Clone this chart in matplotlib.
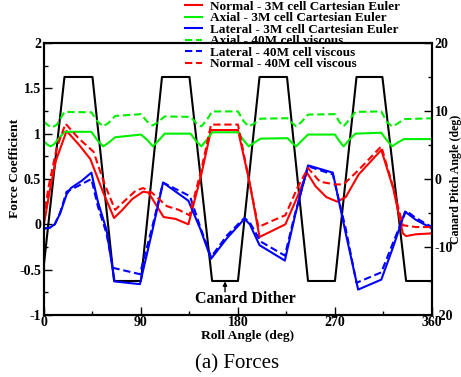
import matplotlib
matplotlib.use("Agg")
import matplotlib.pyplot as plt
from matplotlib.ticker import MultipleLocator

# Roll angle stations (deg) and force coefficients
normal_3m_x = [0, 5, 11, 21, 33, 43, 55, 65, 72, 82, 92, 97, 111, 122, 134, 146, 155, 180, 191, 200,
               212, 224, 235, 244, 252, 262, 272, 280, 292, 313, 324, 333, 336, 345, 360]
normal_3m_y = [0.0, 0.35, 0.7, 1.03, 0.87, 0.72, 0.35, 0.07, 0.15, 0.28, 0.36, 0.35, 0.08, 0.06, 0.0,
               0.55, 1.04, 1.04, 0.45, -0.14, -0.07, 0.0, 0.3, 0.57, 0.42, 0.3, 0.25, 0.3, 0.55, 0.82,
               0.4, -0.1, -0.13, -0.11, -0.1]

axial_3m_x = [0, 3, 6, 9, 19, 44, 50, 55, 60, 66, 90, 96, 101, 106, 112, 136, 141, 146, 151, 156, 180,
              185, 190, 195, 201, 226, 230, 234, 239, 245, 270, 274, 278, 283, 289, 313, 318, 323, 328,
              334, 360]
axial_3m_y = [0.915, 0.88, 0.86, 0.88, 1.02, 1.02, 0.92, 0.86, 0.9, 0.96, 0.99, 0.93, 0.86, 0.92, 1.0,
              1.0, 0.92, 0.86, 0.93, 1.015, 1.015, 0.93, 0.86, 0.9, 0.945, 0.95, 0.9, 0.86, 0.92, 0.99,
              0.99, 0.92, 0.86, 0.93, 1.0, 1.01, 0.93, 0.86, 0.9, 0.94, 0.94]

lateral_3m_x = [0, 5, 10, 15, 21, 25, 35, 44, 50, 58, 65.5, 89, 100, 110.5, 134, 145, 155, 170, 180, 186,
                191, 200, 223.5, 233, 245, 268, 280, 291.5, 313, 324, 335, 345, 360]
lateral_3m_y = [-0.045, -0.04, 0.0, 0.12, 0.33, 0.4, 0.48, 0.57, 0.25, -0.06, -0.63, -0.66, -0.1, 0.46,
                0.26, -0.05, -0.38, -0.15, -0.02, 0.06, 0.0, -0.23, -0.4, 0.1, 0.65, 0.57, -0.1, -0.72,
                -0.61, -0.25, 0.14, 0.05, -0.045]

axial_40m_x = [0, 4, 8, 12, 19, 44, 50, 55, 60, 66, 90, 96, 101, 106, 112, 136, 141, 146, 151, 156, 180,
               185, 190, 195, 201, 226, 230, 234, 239, 245, 270, 274, 278, 283, 289, 313, 318, 323, 328,
               334, 360]
axial_40m_y = [1.13, 1.09, 1.07, 1.1, 1.24, 1.235, 1.13, 1.08, 1.12, 1.195, 1.215, 1.13, 1.09, 1.13,
               1.19, 1.185, 1.12, 1.08, 1.15, 1.245, 1.245, 1.14, 1.08, 1.11, 1.165, 1.17, 1.12, 1.08,
               1.13, 1.21, 1.215, 1.13, 1.08, 1.15, 1.24, 1.245, 1.13, 1.08, 1.11, 1.16, 1.17]

lateral_40m_x = [0, 5, 10, 15, 21, 28, 44, 50, 58, 64, 89, 100, 110.5, 135.5, 145, 155, 170, 180, 186,
                 191, 201, 223.5, 233, 245, 268, 280, 290, 313, 324, 336, 345, 360]
lateral_40m_y = [-0.045, -0.04, 0.0, 0.13, 0.36, 0.4, 0.5, 0.2, -0.1, -0.48, -0.55, -0.05, 0.46, 0.31,
                 -0.03, -0.36, -0.12, 0.0, 0.07, 0.02, -0.19, -0.345, 0.12, 0.64, 0.55, -0.05, -0.645,
                 -0.53, -0.2, 0.15, 0.07, -0.03]

normal_40m_x = [0, 4, 12, 20, 32, 46, 56, 66, 75, 85, 92, 100, 114, 125, 135, 146, 155, 180, 190, 199,
                212, 224, 235, 245, 256, 270, 278, 292, 313, 323, 333, 345, 360]
normal_40m_y = [0.05, 0.4, 0.85, 1.11, 0.95, 0.8, 0.45, 0.16, 0.26, 0.37, 0.4, 0.35, 0.2, 0.16, 0.1, 0.6,
                1.1, 1.1, 0.5, -0.03, 0.04, 0.1, 0.4, 0.62, 0.47, 0.44, 0.44, 0.6, 0.86, 0.45, -0.01,
                -0.03, -0.03]

# Canard dither schedule (pitch angle, deg)
dither_x = [0, 19, 45, 65, 90, 109.5, 135, 156, 180, 200, 225.5, 245, 270, 290, 314, 336, 360]
dither_y = [-12.5, 15, 15, -15, -15, 15, 15, -15, -15, 15, 15, -15, -15, 15, 15, -15, -15]

x_ticks = [0, 90, 180, 270, 360]
left_ticks = [-1, -0.5, 0, 0.5, 1, 1.5, 2]
right_ticks = [-20, -10, 0, 10, 20]

series_labels = ["Normal - 3M cell Cartesian Euler", "Axial - 3M cell Cartesian Euler",
                 "Lateral - 3M cell Cartesian Euler", "Axial - 40M cell viscous",
                 "Lateral - 40M cell viscous", "Normal - 40M cell viscous"]

SERIF = "Liberation Serif"
RED, GREEN, BLUE = "#ff0000", "#00ee00", "#0000ff"
LW = 1.5
DASH = (0, (3.5, 1.8))

fig = plt.figure(figsize=(4.61, 3.77), dpi=100)
ax = fig.add_axes([0.0954, 0.1645, 0.8416, 0.7215])
ax2 = ax.twinx()

# dither on the secondary axis, behind the force curves
ax2.plot(dither_x, dither_y, color="black", lw=LW, zorder=1)
ax2.set_ylim(-20, 20)
ax.set_zorder(ax2.get_zorder() + 1)
ax.patch.set_visible(False)

h1, = ax.plot(normal_3m_x, normal_3m_y, color=RED, lw=LW)
h2, = ax.plot(axial_3m_x, axial_3m_y, color=GREEN, lw=LW)
h3, = ax.plot(lateral_3m_x, lateral_3m_y, color=BLUE, lw=LW)
h4, = ax.plot(axial_40m_x, axial_40m_y, color=GREEN, lw=LW, linestyle=DASH)
h5, = ax.plot(lateral_40m_x, lateral_40m_y, color=BLUE, lw=LW, linestyle=DASH)
h6, = ax.plot(normal_40m_x, normal_40m_y, color=RED, lw=LW, linestyle=DASH)

ax.set_xlim(0, 360)
ax.set_ylim(-1, 2)
ax.set_xticks(x_ticks)
ax.set_xticklabels([str(v) for v in x_ticks])
ax.set_yticks(left_ticks)
ax.set_yticklabels([f"{v:g}" for v in left_ticks])
ax.xaxis.set_minor_locator(MultipleLocator(45))
ax.yaxis.set_minor_locator(MultipleLocator(0.25))
ax2.set_yticks(right_ticks)
ax2.set_yticklabels([str(v) for v in right_ticks])
ax2.yaxis.set_minor_locator(MultipleLocator(5))

for a in (ax, ax2):
    a.tick_params(which="major", direction="in", length=6, width=1.0, pad=2)
    a.tick_params(which="minor", direction="in", length=3, width=1.0)
    for lbl in a.get_xticklabels() + a.get_yticklabels():
        lbl.set_fontfamily(SERIF)
        lbl.set_fontweight("bold")
        lbl.set_fontsize(10)
    for sp in a.spines.values():
        sp.set_linewidth(1.5)
ax.tick_params(axis="x", which="major", pad=0.5)

label_font = dict(family=SERIF, weight="bold", size=9.7)
ax.set_xlabel("Roll Angle (deg)", **label_font)
ax.xaxis.set_label_coords(0.526, -0.054)
ax.set_ylabel("Force Coefficient", **label_font)
ax.yaxis.set_label_coords(-0.059, 0.54)
ax2.set_ylabel("Canard Pitch Angle (deg)", family=SERIF, weight="bold", size=8.6)
ax2.yaxis.set_label_coords(1.047, 0.5)

# label for the dither trace with a short vertical pointer
ax2.text(187, -17.6, "Canard Dither", ha="center", va="center",
         family=SERIF, weight="bold", size=11.5)
ax2.annotate("", xy=(168, -15.05), xytext=(168, -16.6),
             arrowprops=dict(arrowstyle="-|>", color="black", lw=1.0,
                             mutation_scale=6, shrinkA=0, shrinkB=0))

fig.legend([h1, h2, h3, h4, h5, h6], series_labels, loc="upper left",
           bbox_to_anchor=(0.39, 1.012), frameon=False, handlelength=1.3,
           handletextpad=0.6, labelspacing=-0.06, borderaxespad=0,
           prop=dict(family=SERIF, weight="bold", size=9.5))

fig.text(0.514, 0.035, "(a) Forces", ha="center", va="center", family=SERIF, size=15)

fig.savefig("out.png", dpi=100)
